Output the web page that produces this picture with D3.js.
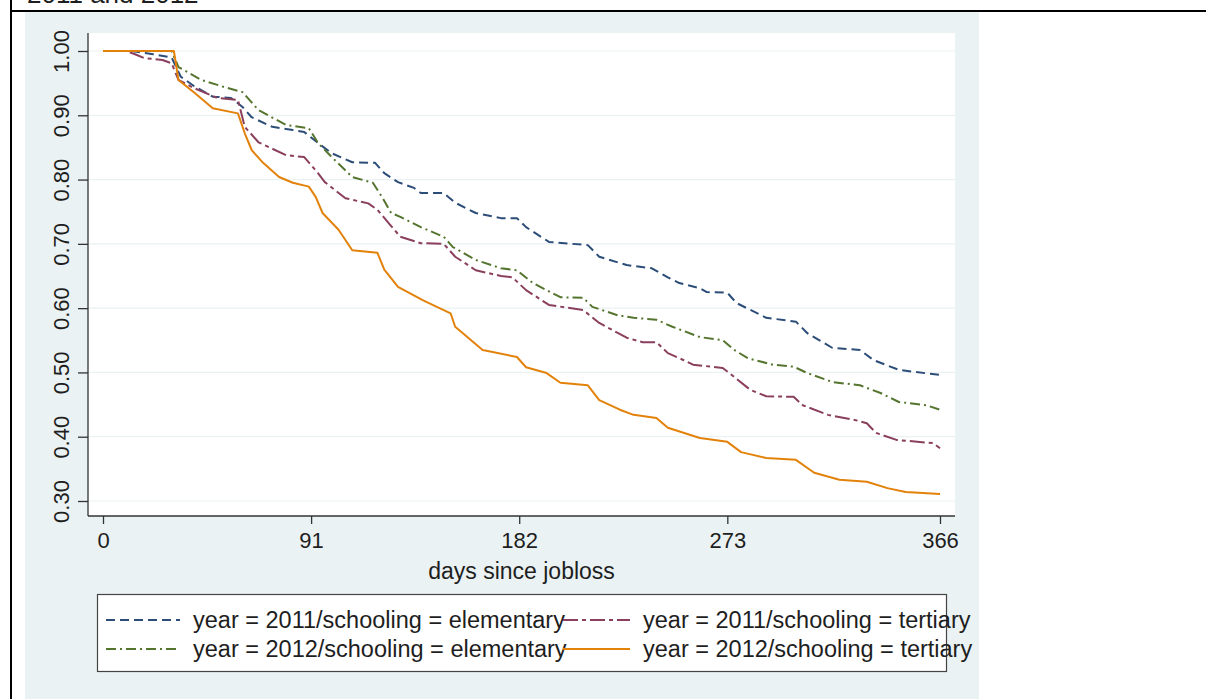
<!DOCTYPE html>
<html>
<head>
<meta charset="utf-8">
<script src="https://cdn.jsdelivr.net/npm/d3@7"></script>
<style>
  html, body { margin: 0; padding: 0; background: #ffffff; }
  svg { display: block; }
  text { font-family: "Liberation Sans", Arial, sans-serif; fill: #1e1e1e; }
</style>
</head>
<body>
<svg id="chart" width="1206" height="699"></svg>
<script>
// Kaplan-Meier survival in unemployment, by year of job loss and schooling
const xTicks = [0, 91, 182, 273, 366];
const yTicks = [0.30, 0.40, 0.50, 0.60, 0.70, 0.80, 0.90, 1.00];

const seriesNames = [
  "year = 2011/schooling = elementary",
  "year = 2011/schooling = tertiary",
  "year = 2012/schooling = elementary",
  "year = 2012/schooling = tertiary"
];

// days since job loss / surviving share, one pair of arrays per group
const days2011Elem = [0,12,22,30,34,40,48,56,61,65,74,83,88,94,100,109,119,123,129,136,139,149,154,163,174,181,185,195,212,217,229,240,247,252,261,264,273,277,290,303,308,319,331,337,348,366];
const surv2011Elem = [1.000,1.000,0.995,0.990,0.960,0.945,0.929,0.927,0.913,0.897,0.882,0.877,0.874,0.857,0.841,0.827,0.826,0.810,0.796,0.787,0.779,0.779,0.764,0.748,0.740,0.740,0.726,0.703,0.698,0.680,0.667,0.662,0.648,0.639,0.631,0.625,0.624,0.608,0.585,0.579,0.561,0.538,0.535,0.519,0.504,0.496];

const days2011Tert = [0,10,14,18,26,30,33,40,50,59,62,68,80,88,94,97,106,116,120,125,130,139,149,154,163,174,179,185,195,210,217,229,236,242,247,254,258,271,276,283,290,302,306,317,330,334,338,347,363,366];
const surv2011Tert = [1.000,1.000,0.995,0.989,0.986,0.981,0.955,0.942,0.927,0.924,0.882,0.858,0.838,0.835,0.810,0.796,0.771,0.763,0.753,0.732,0.711,0.701,0.700,0.680,0.659,0.650,0.648,0.628,0.605,0.597,0.577,0.554,0.547,0.547,0.530,0.519,0.512,0.507,0.493,0.473,0.463,0.462,0.449,0.434,0.425,0.421,0.406,0.395,0.390,0.382];

const days2012Elem = [0,30,33,43,53,61,68,80,90,94,100,109,118,122,126,130,139,149,153,163,174,181,188,200,210,214,225,232,242,249,261,271,276,282,293,302,308,319,331,340,348,360,366];
const surv2012Elem = [1.000,1.000,0.975,0.955,0.944,0.936,0.908,0.885,0.880,0.857,0.835,0.804,0.795,0.773,0.748,0.742,0.726,0.711,0.695,0.675,0.662,0.659,0.639,0.617,0.616,0.602,0.589,0.585,0.582,0.571,0.555,0.550,0.535,0.522,0.512,0.509,0.499,0.485,0.480,0.468,0.454,0.449,0.442];

const days2012Tert = [0,31,33,40,48,59,62,65,70,77,83,90,93,96,103,109,120,123,129,140,152,154,166,181,185,194,200,212,217,226,232,242,247,261,273,279,290,303,311,322,334,343,351,366];
const surv2012Tert = [1.000,1.000,0.955,0.935,0.911,0.903,0.872,0.846,0.826,0.804,0.795,0.789,0.773,0.748,0.722,0.690,0.686,0.660,0.633,0.612,0.592,0.571,0.535,0.524,0.508,0.499,0.484,0.480,0.457,0.442,0.434,0.429,0.414,0.398,0.392,0.376,0.367,0.364,0.344,0.333,0.330,0.320,0.314,0.311];

const dayArrays = [days2011Elem, days2011Tert, days2012Elem, days2012Tert];
const survArrays = [surv2011Elem, surv2011Tert, surv2012Elem, surv2012Tert];

const lineColors = ["#2c4d78", "#8a3f5c", "#55752f", "#e3820a"];
const lineDashes = ["9,5", "15,4,4,4", "10,4,2,4", null];

const svg = d3.select("#chart");

// outer frame lines
svg.append("rect").attr("x", 10).attr("y", 10).attr("width", 1196).attr("height", 2).attr("fill", "#000");
svg.append("rect").attr("x", 10).attr("y", 0).attr("width", 2).attr("height", 699).attr("fill", "#000");

// heading, mostly above the frame
svg.append("text").attr("x", 27).attr("y", 3).attr("font-size", 26).text("2011 and 2012");

// graph background
svg.append("rect").attr("x", 25).attr("y", 12).attr("width", 954).attr("height", 687).attr("fill", "#eaf2f3");

const plot = { left: 88, right: 955, top: 33, bottom: 516 };
svg.append("rect")
  .attr("x", plot.left).attr("y", plot.top)
  .attr("width", plot.right - plot.left).attr("height", plot.bottom - plot.top)
  .attr("fill", "#ffffff");

const x = d3.scaleLinear().domain([0, 366]).range([103, 940]);
const y = d3.scaleLinear().domain([0.30, 1.00]).range([501, 51]);

// horizontal grid
svg.append("g").selectAll("line").data(yTicks).join("line")
  .attr("x1", plot.left).attr("x2", plot.right)
  .attr("y1", d => y(d)).attr("y2", d => y(d))
  .attr("stroke", "#eaf2f3").attr("stroke-width", 1.2);

// survival curves
const line = d3.line().x(d => x(d[0])).y(d => y(d[1]));
dayArrays.forEach((days, i) => {
  const pts = days.map((d, k) => [d, survArrays[i][k]]);
  svg.append("path")
    .datum(pts)
    .attr("d", line)
    .attr("fill", "none")
    .attr("stroke", lineColors[i])
    .attr("stroke-width", 2)
    .attr("stroke-linejoin", "round")
    .attr("stroke-dasharray", lineDashes[i]);
});

// y axis
const yAxis = svg.append("g").attr("transform", `translate(${plot.left},0)`)
  .call(d3.axisLeft(y).tickValues(yTicks).tickFormat(d3.format(".2f")).tickSize(10).tickPadding(0));
yAxis.select(".domain").remove();
yAxis.selectAll(".tick line").attr("stroke", "#333").attr("stroke-width", 1.3);
yAxis.selectAll(".tick text")
  .attr("font-size", 22)
  .attr("fill", "#1e1e1e")
  .attr("x", null).attr("dy", null)
  .attr("text-anchor", "middle")
  .attr("transform", "translate(-19,0) rotate(-90)");
svg.append("line").attr("x1", plot.left).attr("x2", plot.left)
  .attr("y1", plot.top).attr("y2", plot.bottom)
  .attr("stroke", "#333").attr("stroke-width", 1.3);

// x axis
const xAxis = svg.append("g").attr("transform", `translate(0,${plot.bottom})`)
  .call(d3.axisBottom(x).tickValues(xTicks).tickFormat(d3.format("d")).tickSize(8).tickPadding(8));
xAxis.select(".domain").remove();
xAxis.selectAll(".tick line").attr("stroke", "#333").attr("stroke-width", 1.3);
xAxis.selectAll(".tick text")
  .attr("font-size", 22)
  .attr("fill", "#1e1e1e");
svg.append("line").attr("x1", plot.left).attr("x2", plot.right)
  .attr("y1", plot.bottom).attr("y2", plot.bottom)
  .attr("stroke", "#333").attr("stroke-width", 1.3);

svg.append("text").attr("x", (plot.left + plot.right) / 2).attr("y", 579)
  .attr("text-anchor", "middle").attr("font-size", 23).text("days since jobloss");

// legend
const legend = svg.append("g");
legend.append("rect").attr("x", 97.5).attr("y", 594.5).attr("width", 849).attr("height", 77)
  .attr("fill", "#ffffff").attr("stroke", "#444").attr("stroke-width", 1.2);
const colX = [[106, 180, 193], [563, 630, 643]];
const rowY = [620, 649];
seriesNames.forEach((name, i) => {
  const c = colX[i % 2], r = rowY[Math.floor(i / 2)];
  legend.append("line").attr("x1", c[0]).attr("x2", c[1]).attr("y1", r).attr("y2", r)
    .attr("stroke", lineColors[i]).attr("stroke-width", 2)
    .attr("stroke-dasharray", lineDashes[i]);
  legend.append("text").attr("x", c[2]).attr("y", r + 8).attr("font-size", 23.5).text(name);
});
</script>
</body>
</html>
